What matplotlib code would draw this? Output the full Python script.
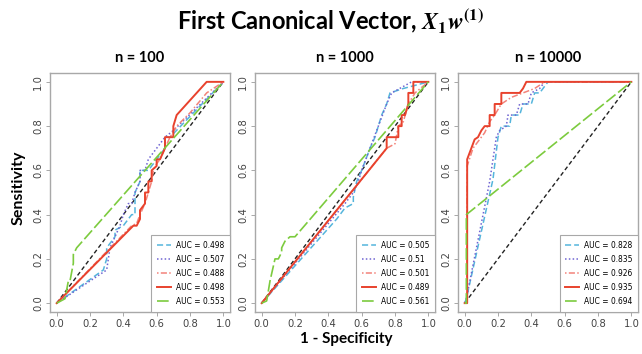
import matplotlib
matplotlib.use("Agg")
import matplotlib.pyplot as plt
from matplotlib.lines import Line2D
from matplotlib import font_manager as fm

plt.rcParams['mathtext.fontset'] = 'stix'

# ---------------- data ----------------
panel_titles = ["n = 100", "n = 1000", "n = 10000"]
series_names = ["cyan", "purple", "salmon", "red", "green"]
tick_values = [0.0, 0.2, 0.4, 0.6, 0.8, 1.0]
tick_labels = ["0.0", "0.2", "0.4", "0.6", "0.8", "1.0"]

auc_n100 = ["0.498", "0.507", "0.488", "0.498", "0.553"]
auc_n1000 = ["0.505", "0.51", "0.501", "0.489", "0.561"]
auc_n10000 = ["0.828", "0.835", "0.926", "0.935", "0.694"]

# n = 100
n100_cyan_fpr = [0.0, 0.28, 0.30, 0.30, 0.35, 0.35, 0.40, 0.45, 0.47, 0.47, 0.50, 0.50, 0.55, 0.60, 0.65, 0.65, 0.68, 1.0]
n100_cyan_tpr = [0.0, 0.15, 0.20, 0.25, 0.30, 0.33, 0.35, 0.40, 0.40, 0.50, 0.55, 0.60, 0.60, 0.65, 0.70, 0.75, 0.75, 1.0]
n100_purple_fpr = [0.0, 0.30, 0.32, 0.35, 0.38, 0.40, 0.43, 0.45, 0.47, 0.50, 0.50, 0.53, 0.55, 0.60, 0.65, 0.70, 1.0]
n100_purple_tpr = [0.0, 0.15, 0.25, 0.30, 0.35, 0.40, 0.45, 0.45, 0.50, 0.55, 0.60, 0.60, 0.65, 0.70, 0.75, 0.78, 1.0]
n100_salmon_fpr = [0.0, 0.45, 0.48, 0.50, 0.53, 0.55, 0.57, 0.58, 0.60, 0.62, 0.65, 0.68, 0.72, 0.80, 0.90, 1.0]
n100_salmon_tpr = [0.0, 0.35, 0.36, 0.40, 0.45, 0.50, 0.55, 0.60, 0.63, 0.65, 0.70, 0.75, 0.80, 0.86, 0.95, 1.0]
n100_red_fpr = [0.0, 0.46, 0.48, 0.50, 0.50, 0.53, 0.53, 0.55, 0.55, 0.57, 0.57, 0.60, 0.60, 0.62, 0.65, 0.65, 0.70, 0.70, 0.72, 0.90, 1.0]
n100_red_tpr = [0.0, 0.35, 0.35, 0.38, 0.42, 0.45, 0.50, 0.50, 0.55, 0.55, 0.60, 0.62, 0.65, 0.65, 0.70, 0.75, 0.75, 0.80, 0.85, 1.0, 1.0]
n100_green_fpr = [0.0, 0.05, 0.07, 0.08, 0.10, 0.10, 0.12, 1.0]
n100_green_tpr = [0.0, 0.02, 0.10, 0.10, 0.18, 0.22, 0.25, 1.0]

# n = 1000
n1000_cyan_fpr = [0.0, 0.45, 0.50, 0.55, 0.55, 0.57, 0.60, 0.65, 0.68, 0.70, 0.72, 0.75, 0.77, 0.85, 1.0]
n1000_cyan_tpr = [0.0, 0.38, 0.43, 0.45, 0.48, 0.55, 0.60, 0.70, 0.75, 0.80, 0.85, 0.90, 0.95, 0.97, 1.0]
n1000_purple_fpr = [0.0, 0.50, 0.55, 0.58, 0.60, 0.65, 0.70, 0.75, 0.78, 0.90, 1.0]
n1000_purple_tpr = [0.0, 0.45, 0.50, 0.55, 0.60, 0.70, 0.80, 0.90, 0.95, 1.0, 1.0]
n1000_salmon_fpr = [0.0, 0.75, 0.80, 0.82, 0.85, 0.88, 0.92, 1.0]
n1000_salmon_tpr = [0.0, 0.70, 0.72, 0.80, 0.82, 0.90, 0.95, 1.0]
n1000_red_fpr = [0.0, 0.75, 0.75, 0.82, 0.82, 0.84, 0.84, 0.86, 0.88, 0.88, 0.91, 0.91, 0.95, 1.0]
n1000_red_tpr = [0.0, 0.70, 0.75, 0.75, 0.80, 0.80, 0.85, 0.85, 0.90, 0.95, 0.95, 1.0, 1.0, 1.0]
n1000_green_fpr = [0.0, 0.03, 0.05, 0.08, 0.10, 0.12, 0.12, 0.14, 0.17, 0.20, 1.0]
n1000_green_tpr = [0.0, 0.01, 0.10, 0.20, 0.20, 0.23, 0.25, 0.28, 0.30, 0.30, 1.0]

# n = 10000
n10000_cyan_fpr = [0.0, 0.01, 0.17, 0.20, 0.22, 0.27, 0.28, 0.33, 0.35, 0.40, 0.42, 0.45, 0.47, 0.50, 1.0]
n10000_cyan_tpr = [0.0, 0.02, 0.56, 0.75, 0.80, 0.80, 0.85, 0.85, 0.90, 0.90, 0.95, 0.95, 0.97, 1.0, 1.0]
n10000_purple_fpr = [0.0, 0.01, 0.15, 0.19, 0.21, 0.25, 0.26, 0.31, 0.33, 0.38, 0.40, 0.45, 0.48, 1.0]
n10000_purple_tpr = [0.0, 0.02, 0.55, 0.75, 0.78, 0.80, 0.85, 0.85, 0.90, 0.90, 0.95, 0.97, 1.0, 1.0]
n10000_salmon_fpr = [0.0, 0.015, 0.015, 0.05, 0.08, 0.12, 0.15, 0.18, 0.22, 0.28, 0.35, 0.42, 0.48, 1.0]
n10000_salmon_tpr = [0.0, 0.0, 0.62, 0.70, 0.73, 0.77, 0.82, 0.85, 0.90, 0.93, 0.95, 0.97, 1.0, 1.0]
n10000_red_fpr = [0.0, 0.015, 0.015, 0.06, 0.08, 0.10, 0.12, 0.15, 0.15, 0.18, 0.18, 0.22, 0.22, 0.27, 0.27, 0.33, 0.35, 0.37, 1.0]
n10000_red_tpr = [0.0, 0.0, 0.65, 0.74, 0.75, 0.78, 0.80, 0.80, 0.85, 0.85, 0.90, 0.90, 0.95, 0.95, 0.95, 0.95, 0.97, 1.0, 1.0]
n10000_green_fpr = [0.0, 0.01, 0.01, 1.0]
n10000_green_tpr = [0.0, 0.0, 0.40, 1.0]

panel_data = [
    [(n100_cyan_fpr, n100_cyan_tpr), (n100_purple_fpr, n100_purple_tpr), (n100_salmon_fpr, n100_salmon_tpr),
     (n100_red_fpr, n100_red_tpr), (n100_green_fpr, n100_green_tpr)],
    [(n1000_cyan_fpr, n1000_cyan_tpr), (n1000_purple_fpr, n1000_purple_tpr), (n1000_salmon_fpr, n1000_salmon_tpr),
     (n1000_red_fpr, n1000_red_tpr), (n1000_green_fpr, n1000_green_tpr)],
    [(n10000_cyan_fpr, n10000_cyan_tpr), (n10000_purple_fpr, n10000_purple_tpr), (n10000_salmon_fpr, n10000_salmon_tpr),
     (n10000_red_fpr, n10000_red_tpr), (n10000_green_fpr, n10000_green_tpr)],
]
panel_aucs = [auc_n100, auc_n1000, auc_n10000]

# ---------------- styles ----------------
colors = {"cyan": "#55b5dc", "purple": "#6f64d2", "salmon": "#f3837a", "red": "#e8422d", "green": "#7ccb3e"}
styles = {"cyan": (0, (4, 2)), "purple": (0, (1, 1.5)), "salmon": (0, (1, 1.5, 4, 1.5)),
          "red": "-", "green": (0, (7, 2))}
widths = {"cyan": 1.1, "purple": 1.1, "salmon": 1.1, "red": 1.4, "green": 1.2}


def narrow_props(size):
    # pick a narrow sans font if one is installed
    try:
        fm.findfont(fm.FontProperties(family="Liberation Sans Narrow"), fallback_to_default=False)
        return fm.FontProperties(family="Liberation Sans Narrow", size=size)
    except Exception:
        pass
    p = fm.FontProperties(family="DejaVu Sans", stretch="condensed", size=size)
    if "ondensed" in fm.findfont(p):
        return p
    return fm.FontProperties(family="Liberation Sans", size=size)


tick_fp = narrow_props(8)
leg_fp = narrow_props(6.0)
title_font = ['Lato', 'DejaVu Sans']
frame_col = "#a8a8a8"

fig = plt.figure(figsize=(6.42, 3.54), dpi=100)
W, H = 642, 354
lefts = [50, 255, 458]
top_px, bot_px, width_px = 73, 312, 180

for i in range(3):
    ax = fig.add_axes([lefts[i] / W, 1 - bot_px / H, width_px / W, (bot_px - top_px) / H])
    ax.plot([0, 1], [0, 1], color="#222222", linestyle=(0, (3, 2)), lw=1.0, zorder=1)
    handles = []
    for name, (fx, ty), auc in zip(series_names, panel_data[i], panel_aucs[i]):
        ax.plot(fx, ty, color=colors[name], linestyle=styles[name], lw=widths[name], zorder=2)
        handles.append(Line2D([0], [0], color=colors[name], linestyle=styles[name], lw=widths[name],
                              label=f"AUC = {auc}"))
    ax.set_xlim(-0.04, 1.04)
    ax.set_ylim(-0.04, 1.04)
    ax.set_xticks(tick_values)
    ax.set_xticklabels(tick_labels, fontproperties=tick_fp, color="#444444")
    ax.set_yticks(tick_values)
    ax.set_yticklabels(tick_labels, fontproperties=tick_fp, color="#444444",
                       rotation=90, va="center")
    ax.tick_params(length=3, width=0.7, color=frame_col, pad=2)
    for s in ax.spines.values():
        s.set_color(frame_col)
        s.set_linewidth(1.0)
    ax.set_title(panel_titles[i], family=title_font, fontweight="bold", fontsize=10.5, pad=8)
    leg = ax.legend(handles=handles, loc="lower right", borderaxespad=0,
                    prop=leg_fp, handlelength=1.6, handletextpad=0.6,
                    labelspacing=0.6, fancybox=False, framealpha=1, borderpad=0.7)
    leg.get_frame().set_edgecolor(frame_col)
    leg.get_frame().set_linewidth(0.8)

fig.text(330 / W, 1 - 21 / H,
         r"First Canonical Vector, $\mathbfit{X}_{\mathbf{1}}\mathbfit{w}^{\mathbf{(1)}}$",
         ha="center", va="center", family=title_font, fontweight="bold", fontsize=17)
fig.text(19 / W, 1 - 188 / H, "Sensitivity", rotation=90, ha="center", va="center",
         family=title_font, fontweight="bold", fontsize=11.5)
fig.text(346 / W, 1 - 339 / H, "1 - Specificity", ha="center", va="center",
         family=title_font, fontweight="bold", fontsize=11)

fig.savefig("out.png", dpi=100)
